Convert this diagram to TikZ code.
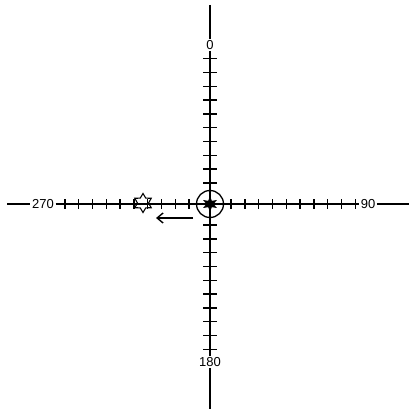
\documentclass[tikz,border=0pt]{standalone}
\usepackage{fontspec}
\setsansfont{Liberation Sans}
\usetikzlibrary{shapes.geometric,arrows.meta}
\begin{document}
\begin{tikzpicture}[x=1pt,y=-1pt,
  axis/.style={line width=1.3pt,black},
  tickmark/.style={line width=1.4pt,black},
  lbl/.style={font=\sffamily\fontsize{13}{13}\selectfont, inner sep=1.5pt},
  bigstar/.style={star, star points=6, star point ratio=2.2, fill=black, minimum size=16pt, inner sep=0pt},
  openstar/.style={star, star points=6, star point ratio=1.7, draw, line width=1.1pt, minimum size=19pt, inner sep=0pt}]
\useasboundingbox (0,0) rectangle (411,411);
% center
\coordinate (c) at (210,204);
\node[bigstar] (cs) at (c) {};
\node[circle, draw, line width=1.3pt, minimum size=27pt, inner sep=0pt] (cc) at (c) {};
% labels
\node[lbl] (l0) at (210,45) {0};
\node[lbl] (l180) at (210,362) {180};
\node[lbl] (l270) at (43,204) {270};
\node[lbl] (l90) at (368,204) {90};
% axis ends
\coordinate (top) at (210,5);
\coordinate (bot) at (210,409);
\coordinate (lft) at (7,204);
\coordinate (rgt) at (409,204);
\draw[axis] (top) -- (l0);
\draw[axis] (l0) -- (l180);
\draw[axis] (l180) -- (bot);
\draw[axis] (lft) -- (l270);
\draw[axis] (l270) -- (l90);
\draw[axis] (l90) -- (rgt);
% ticks
\foreach \k in {0,...,9}{
  \pgfmathsetmacro{\d}{21+13.8*\k}
  \draw[tickmark] ([xshift=-7pt,yshift=\d pt]c) -- ([xshift=7pt,yshift=\d pt]c);
  \draw[tickmark] ([xshift=-7pt,yshift=-\d pt]c) -- ([xshift=7pt,yshift=-\d pt]c);
  \draw[tickmark] ([xshift=\d pt,yshift=-5pt]c) -- ([xshift=\d pt,yshift=5pt]c);
  \draw[tickmark] ([xshift=-\d pt,yshift=-5pt]c) -- ([xshift=-\d pt,yshift=5pt]c);
}
% open star on the 270 axis
\node[openstar] (os) at (143,203) {};
% arrow
\coordinate (a1) at (193,218);
\coordinate (a2) at (156,218);
\draw[line width=1.4pt, -{Straight Barb[length=6pt,width=10pt]}] (a1) -- (a2);
\end{tikzpicture}
\end{document}
